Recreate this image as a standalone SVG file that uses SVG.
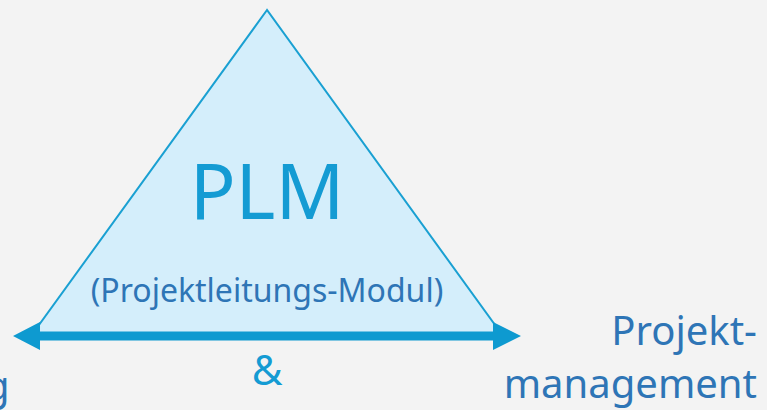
<svg xmlns="http://www.w3.org/2000/svg" width="767" height="410" viewBox="0 0 767 410">
<style>
.t{font-family:"Noto Sans","Open Sans",sans-serif}
.dk{fill:#2e75b6}
.lt{fill:#149bd3}
</style>
<rect width="767" height="410" fill="#f3f3f3"/>
<g id="triangle">
<polygon points="267,10 31,336 503,336" fill="#d4eefb" stroke="#1aa0d2" stroke-width="2" stroke-linejoin="miter"/>
<text class="t lt" x="267" y="219" font-size="76" text-anchor="middle">PLM</text>
<text class="t dk" x="267" y="302" font-size="32" text-anchor="middle">(Projektleitungs-Modul)</text>
</g>
<g id="connectors">
<path d="M13,336 L40,322 L40,331.5 L493,331.5 L493,322 L521,336 L493,350 L493,340.5 L40,340.5 L40,350 Z" fill="#0e9ad0"/>
</g>
<g id="and">
<text class="t lt" x="267" y="385" font-size="42" text-anchor="middle">&amp;</text>
</g>
<g id="projektmanagement">
<text class="t dk" x="757" y="345" font-size="40" text-anchor="end">Projekt-</text>
<text class="t dk" x="757" y="398" font-size="40" text-anchor="end">management</text>
</g>
<g id="left-label">
<text class="t dk" x="-15" y="400" font-size="40">g</text>
</g>
</svg>
